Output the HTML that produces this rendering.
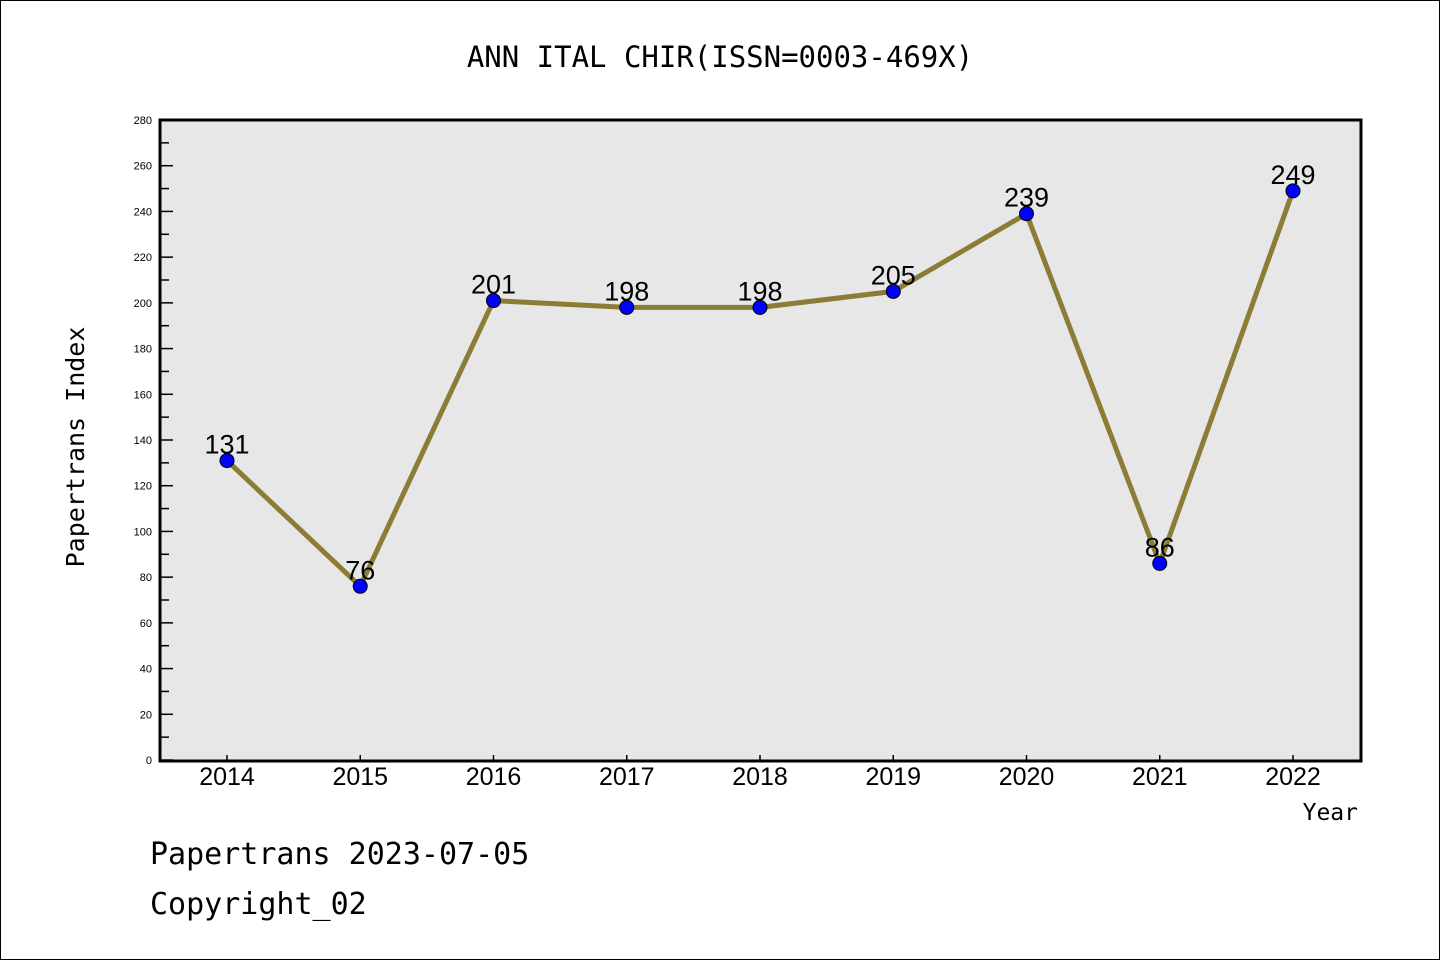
<!DOCTYPE html>
<html><head><meta charset="utf-8"><style>
body{margin:0;background:#fff;}
svg text{font-family:"Liberation Sans","DejaVu Sans",sans-serif;}
svg text.mono{font-family:"DejaVu Sans Mono","Liberation Mono",monospace;}
</style></head><body>
<svg id="chart" width="1440" height="960" xmlns="http://www.w3.org/2000/svg">
<rect x="0.5" y="0.5" width="1439" height="959" fill="#fff" stroke="#000"/>
<text class="mono" x="720" y="67" text-anchor="middle" font-size="29">ANN ITAL CHIR(ISSN=0003-469X)</text>
<rect x="160" y="120" width="1201" height="641" fill="#e7e7e7" stroke="#000" stroke-width="3"/>
<g id="yaxis"></g>
<g id="xaxis"></g>
<g id="series"></g>
<text class="mono" transform="translate(84,447) rotate(-90)" text-anchor="middle" font-size="25">Papertrans Index</text>
<text class="mono" x="1358" y="820" text-anchor="end" font-size="23">Year</text>
<text class="mono" x="150" y="864" font-size="30">Papertrans 2023-07-05</text>
<text class="mono" x="150" y="914" font-size="30">Copyright_02</text>
</svg>
<script>
const years = [2014,2015,2016,2017,2018,2019,2020,2021,2022];
const values = [131,76,201,198,198,205,239,86,249];
const yTicks = [0,20,40,60,80,100,120,140,160,180,200,220,240,260,280];
const NS='http://www.w3.org/2000/svg';
const x0=227, dx=133.25, yBase=760, yTop=120, yMax=280;
function xs(i){return x0+i*dx;}
function ys(v){return yBase-(v/yMax)*(yBase-yTop);}
function mk(tag,attrs,parent){const e=document.createElementNS(NS,tag);for(const k in attrs)e.setAttribute(k,attrs[k]);parent.appendChild(e);return e;}
const ya=document.getElementById('yaxis'), xa=document.getElementById('xaxis'), sg=document.getElementById('series');
yTicks.forEach((t,i)=>{
  const y=ys(t);
  const l=mk('line',{x1:160,x2:173,y1:y,y2:y,stroke:'#000','stroke-width':1.5},ya);
  
  
  const tx=mk('text',{x:152,y:y+4,'text-anchor':'end','font-size':11},ya);
  tx.textContent=t;
  
  
  if(i<yTicks.length-1){
    const ym=ys(t+10);
    const m=mk('line',{x1:160,x2:169,y1:ym,y2:ym,stroke:'#000','stroke-width':1.5},ya);
    
    
  }
});
years.forEach((yr,i)=>{
  const x=xs(i);
  const l=mk('line',{x1:x,x2:x,y1:760,y2:755,stroke:'#000','stroke-width':1.5},xa);
  
  
  const tx=mk('text',{x:x,y:785,'text-anchor':'middle','font-size':25},xa);
  tx.textContent=yr;
  
  
});
const pts=values.map((v,i)=>xs(i)+','+ys(v)).join(' ');
const pl=mk('polyline',{points:pts,fill:'none',stroke:'#8b7d35','stroke-width':5,'stroke-linejoin':'round'},sg);


values.forEach((v,i)=>{
  const c=mk('circle',{cx:xs(i),cy:ys(v),r:7,fill:'#0000ff',stroke:'#000','stroke-width':1},sg);
  
  
  const t=mk('text',{x:xs(i),y:ys(v)-7,'text-anchor':'middle','font-size':27},sg);
  t.textContent=v;
  
  
});
</script>
</body></html>
